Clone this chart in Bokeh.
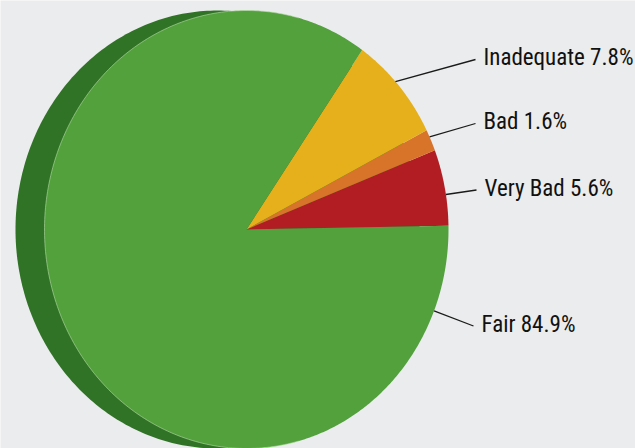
import numpy as np
from bokeh.plotting import figure
from bokeh.models import Range1d
from bokeh.core.properties import value
from bokeh.embed import file_html
from bokeh.resources import INLINE

# ---- data ----
categories = ["Very Bad", "Bad", "Inadequate", "Fair"]
percent = [5.6, 1.6, 7.8, 84.9]
colors = ["#b21d24", "#d8732a", "#e5b01b", "#53a13d"]
side_color = "#307327"

# ---- layout (reference pixel space) ----
CX, CY = 246.0, 229.0      # face centre
RX, RY = 202.0, 219.0      # face radii (tilted pie)
DEPTH = 29.0               # extrusion to the left
START = 1.0                # start angle, degrees, counter-clockwise
label_x = [484, 483, 483, 481]
label_mid = [187.5, 121, 57, 323.5]
anchor_deg = [9.2, 25.0, 42.5, -21.8]

def ell(t_deg, cx=CX):
    t = np.radians(t_deg)
    return cx + RX * np.cos(t), CY - RY * np.sin(t)

W, H = 635, 448
p = figure(width=W, height=H, x_range=Range1d(0, W), y_range=Range1d(H, 0),
           output_backend="svg", toolbar_location=None, min_border=0,
           x_axis_type=None, y_axis_type=None)
p.grid.visible = False
p.outline_line_color = None
p.background_fill_color = "#ebeced"
p.border_fill_color = "#ebeced"

# side (extruded back)
tt = np.linspace(0, 360, 361)
bx, by = ell(tt, CX - DEPTH)
p.patch(list(bx), list(by), fill_color=side_color, line_color=None)

# face slices
total = sum(percent)
xs, ys = [], []
a0 = START
for v in percent:
    a1 = a0 + 360.0 * v / total
    t = np.linspace(a0, a1, max(int(abs(a1 - a0) * 2), 4))
    ex, ey = ell(t)
    xs.append([CX] + list(ex))
    ys.append([CY] + list(ey))
    a0 = a1
p.patches(xs, ys, fill_color=colors, line_color=None)

# light rim on the left of the face
rt = np.linspace(75, 285, 200)
rx_, ry_ = ell(rt)
p.line(list(rx_), list(ry_), line_color="#b8dca8", line_alpha=0.6, line_width=1)

# leader lines and labels
labels = [f"{c} {v}%" for c, v in zip(categories, percent)]
x0, y0 = ell(np.array(anchor_deg))
x1 = [lx - 8 for lx in label_x]
y1 = [m + 2 for m in label_mid]
p.segment(x0=list(x0), y0=list(y0), x1=x1, y1=y1, line_color="#1a1a1a", line_width=1.3)
p.text(x=label_x, y=label_mid, text=labels,
       text_font=value("Roboto Condensed"),
       text_font_size="23px", text_baseline="middle", text_align="left",
       text_color="#111111")

open("out.html", "w").write(file_html(p, INLINE, title="pie"))
